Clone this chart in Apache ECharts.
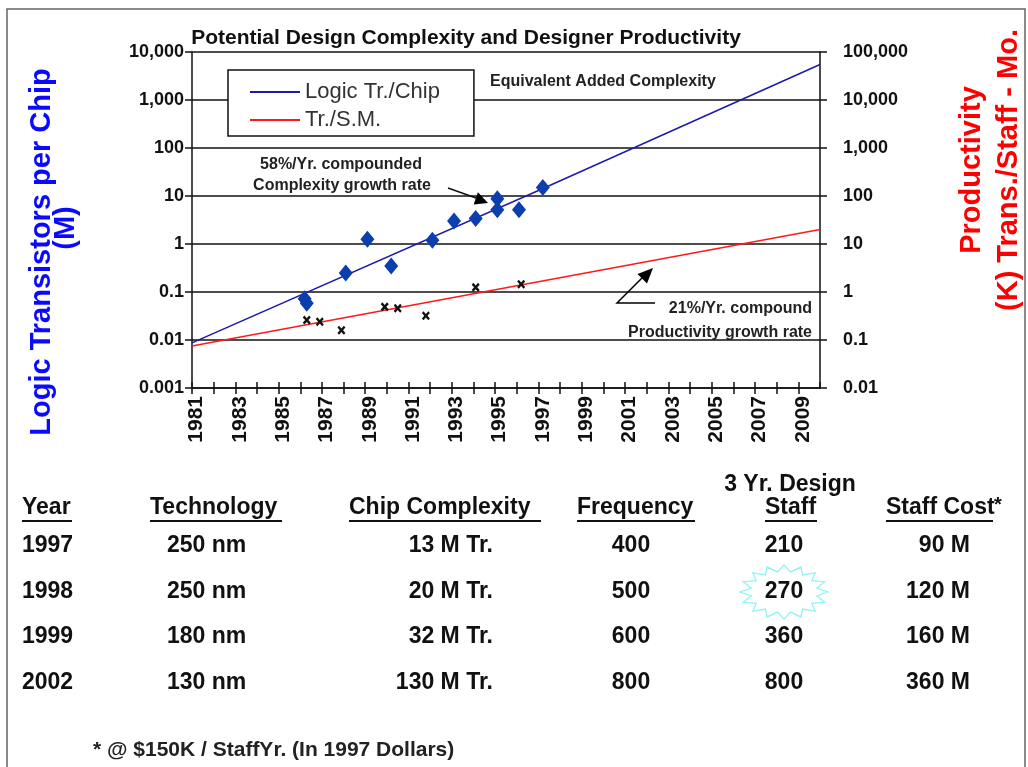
<!DOCTYPE html>
<html><head><meta charset="utf-8">
<script src="https://cdn.jsdelivr.net/npm/echarts@6/dist/echarts.min.js"></script>
<style>html,body{margin:0;padding:0;background:#fff}#c{width:1028px;height:767px}</style>
</head><body><div id="c"></div>
<script>
// ---------- data ----------
const logicTrendYears = [1981, 1997, 2010];
const logicTrendValues = [0.0087, 13, 5500];
const prodTrendYears = [1981, 2010];
const prodTrendValues = [0.075, 20];
const logicPointYears = [1986.2, 1986.3, 1988.1, 1989.1, 1990.2, 1992.1, 1993.1, 1994.1, 1995.1, 1995.1, 1996.1, 1997.2];
const logicPointValues = [0.072, 0.058, 0.25, 1.25, 0.35, 1.2, 3.0, 3.4, 8.8, 5.2, 5.2, 15];
const prodPointYears = [1986.3, 1986.9, 1987.9, 1989.9, 1990.5, 1991.8, 1994.1, 1996.2];
const prodPointValues = [0.26, 0.24, 0.16, 0.49, 0.46, 0.32, 1.25, 1.45];
const leftTickLabels = ['0.001', '0.01', '0.1', '1', '10', '100', '1,000', '10,000'];
const rightTickLabels = ['0.01', '0.1', '1', '10', '100', '1,000', '10,000', '100,000'];
const xFirstYear = 1981, xLastYear = 2010;

const tableHeaders = ['Year', 'Technology', 'Chip Complexity', 'Frequency', 'Staff', 'Staff Cost'];
const tableYears = ['1997', '1998', '1999', '2002'];
const tableTech = ['250 nm', '250 nm', '180 nm', '130 nm'];
const tableComplexity = ['13 M Tr.', '20 M Tr.', '32 M Tr.', '130 M Tr.'];
const tableFrequency = ['400', '500', '600', '800'];
const tableStaff = ['210', '270', '360', '800'];
const tableCost = ['90 M', '120 M', '160 M', '360 M'];

// ---------- chart ----------
const FONT = '"Liberation Sans", Arial, sans-serif';
const chart = echarts.init(document.getElementById('c'), null, {renderer: 'canvas'});
const zip = (a, b) => a.map((v, i) => [v, b[i]]);

const g = [];
function txt(x, y, s, o) {
  g.push(Object.assign({type: 'text', x: x, y: y, z: 10,
    style: Object.assign({text: s, font: 'bold 23px ' + FONT, fill: '#111',
      textAlign: 'left', textVerticalAlign: 'middle'}, o && o.style || {})},
    o && o.el || {}));
}
function line(x1, y1, x2, y2, w, c) {
  g.push({type: 'line', z: 10, shape: {x1, y1, x2, y2}, style: {stroke: c || '#111', lineWidth: w || 2}});
}
// frame
g.push({type: 'rect', z: 0, shape: {x: 7, y: 9, width: 1018, height: 800}, style: {fill: 'none', stroke: '#666', lineWidth: 1.5}});
// axis titles
txt(42, 252, 'Logic Transistors per Chip', {style: {font: 'bold 29px ' + FONT, fill: '#0a0aff', textAlign: 'center'}, el: {rotation: Math.PI / 2}});
txt(66, 228, '(M)', {style: {font: 'bold 29px ' + FONT, fill: '#0a0aff', textAlign: 'center'}, el: {rotation: Math.PI / 2}});
txt(972, 170, 'Productivity', {style: {font: 'bold 29px ' + FONT, fill: '#f00', textAlign: 'center'}, el: {rotation: Math.PI / 2}});
txt(1009, 170, '(K) Trans./Staff - Mo.', {style: {font: 'bold 29px ' + FONT, fill: '#f00', textAlign: 'center'}, el: {rotation: Math.PI / 2}});
// annotations
const aFont = 'bold 16px ' + FONT;
txt(490, 82, 'Equivalent Added Complexity', {style: {font: aFont, fill: '#222'}});
txt(341, 165, '58%/Yr. compounded', {style: {font: aFont, fill: '#222', textAlign: 'center'}});
txt(342, 186, 'Complexity growth rate', {style: {font: aFont, fill: '#222', textAlign: 'center'}});
txt(812, 309, '21%/Yr. compound', {style: {font: aFont, fill: '#222', textAlign: 'right'}});
txt(812, 333, 'Productivity growth rate', {style: {font: aFont, fill: '#222', textAlign: 'right'}});
line(448, 188, 476, 198, 1.5);
g.push({type: 'polygon', z: 10, shape: {points: [[488, 203], [473.7, 204.5], [477.9, 192.3]]}, style: {fill: '#000'}});
g.push({type: 'polyline', z: 10, shape: {points: [[655, 303], [617, 303], [642, 278]]}, style: {stroke: '#000', lineWidth: 1.5, fill: 'none'}});
g.push({type: 'polygon', z: 10, shape: {points: [[653, 268], [647, 283.5], [637.5, 274]]}, style: {fill: '#000'}});

// table
const hy = 508;
const headerX = [22, 150, 349, 577, 765, 886];
const headerUL = [[22, 72], [150, 282], [349, 541], [577, 695], [765, 817], [886, 993]];
tableHeaders.forEach((h, i) => {
  txt(headerX[i], hy, h);
  line(headerUL[i][0], hy + 13, headerUL[i][1], hy + 13, 2);
});
txt(994, hy - 3, '*', {style: {font: 'bold 20px ' + FONT}});
txt(790, 485, '3 Yr. Design', {style: {textAlign: 'center'}});
const rowY = [546, 592, 637, 683];
rowY.forEach((y, i) => {
  txt(22, y, tableYears[i]);
  txt(167, y, tableTech[i]);
  txt(493, y, tableComplexity[i], {style: {textAlign: 'right'}});
  txt(631, y, tableFrequency[i], {style: {textAlign: 'center'}});
  txt(784, y, tableStaff[i], {style: {textAlign: 'center'}});
  txt(970, y, tableCost[i], {style: {textAlign: 'right'}});
});
// starburst round 270
(function () {
  const cx = 784, cy = 592, n = 16, pts = [];
  for (let k = 0; k < 2 * n; k++) {
    const a = Math.PI * k / n;
    const r = k % 2 ? 0.76 : 1;
    pts.push([cx + 44 * r * Math.cos(a), cy + 27 * r * Math.sin(a)]);
  }
  g.push({type: 'polygon', z: 9, shape: {points: pts}, style: {fill: 'none', stroke: '#8ff3f3', lineWidth: 1.3}});
})();
txt(93, 750, '* @ $150K / StaffYr. (In 1997 Dollars)', {style: {font: 'bold 21px ' + FONT, fill: '#222'}});

const axisLabelStyle = {color: '#111', fontFamily: FONT, fontWeight: 'bold', fontSize: 18};
const blk = {color: '#111', width: 1.5};
const option = {
  animation: false,
  backgroundColor: '#fff',
  title: {text: 'Potential Design Complexity and Designer Productivity', left: 461, top: 23, textAlign: 'center',
    textStyle: {fontFamily: FONT, fontWeight: 'bold', fontSize: 21, color: '#111'}},
  legend: {
    data: ['Logic Tr./Chip', 'Tr./S.M.'], orient: 'vertical', left: 228, top: 70,
    padding: [11, 34, 5, 22], itemGap: 6, itemWidth: 50, itemHeight: 2, icon: 'rect',
    backgroundColor: '#fff', borderColor: '#111', borderWidth: 1.5, borderRadius: 0,
    textStyle: {fontFamily: FONT, fontSize: 22, color: '#333'}
  },
  grid: {left: 192, right: 208, top: 52, bottom: 379, containLabel: false},
  xAxis: [{
    type: 'value', min: xFirstYear, max: xLastYear, interval: 1, position: 'bottom',
    axisLine: {lineStyle: blk}, axisTick: {length: 6, lineStyle: blk}, splitLine: {show: false},
    axisLabel: Object.assign({}, axisLabelStyle, {fontSize: 21, rotate: 90, margin: 8, showMaxLabel: false,
      verticalAlign: 'top', lineHeight: 9,
      formatter: v => ((v - xFirstYear) % 2 === 0 && v < xLastYear) ? String(v) : ''})
  }, {
    type: 'value', min: xFirstYear, max: xLastYear, interval: 1, position: 'bottom',
    axisLine: {show: false}, axisTick: {inside: true, length: 6, lineStyle: blk},
    axisLabel: {show: false}, splitLine: {show: false}
  }],
  yAxis: [{
    type: 'log', logBase: 10, min: 0.001, max: 10000, splitNumber: 7, position: 'left',
    axisLine: {show: true, lineStyle: blk}, axisTick: {show: true, length: 7, lineStyle: blk},
    splitLine: {show: true, lineStyle: blk}, minorTick: {show: false},
    axisLabel: Object.assign({}, axisLabelStyle, {margin: 8,
      formatter: v => leftTickLabels[Math.round(Math.log10(v)) + 3]})
  }, {
    type: 'log', logBase: 10, min: 0.01, max: 100000, splitNumber: 7, position: 'right',
    axisLine: {show: true, lineStyle: blk}, axisTick: {show: true, length: 7, lineStyle: blk},
    splitLine: {show: false},
    axisLabel: Object.assign({}, axisLabelStyle, {margin: 23,
      formatter: v => rightTickLabels[Math.round(Math.log10(v)) + 2]})
  }],
  series: [
    {name: 'Logic Tr./Chip', type: 'line', xAxisIndex: 0, yAxisIndex: 0, data: zip(logicTrendYears, logicTrendValues),
      showSymbol: false, color: '#1c1ca8', lineStyle: {width: 1.5, color: '#1c1ca8'}, z: 3},
    {name: 'Tr./S.M.', type: 'line', xAxisIndex: 0, yAxisIndex: 1, data: zip(prodTrendYears, prodTrendValues),
      showSymbol: false, color: '#ff1a1a', lineStyle: {width: 1.5, color: '#ff1a1a'}, z: 3},
    {name: 'complexity points', type: 'scatter', xAxisIndex: 0, yAxisIndex: 0, data: zip(logicPointYears, logicPointValues),
      symbol: 'diamond', symbolSize: [14, 17], itemStyle: {color: '#0c3fae', opacity: 1}, z: 4},
    {name: 'productivity points', type: 'scatter', xAxisIndex: 0, yAxisIndex: 1, data: zip(prodPointYears, prodPointValues),
      symbol: 'path://M0,2L2,0L5,3L8,0L10,2L7,5L10,8L8,10L5,7L2,10L0,8L3,5Z', symbolSize: [8, 9],
      itemStyle: {color: '#111', opacity: 1}, z: 4}
  ],
  graphic: g
};
chart.setOption(option);
</script>
</body></html>
